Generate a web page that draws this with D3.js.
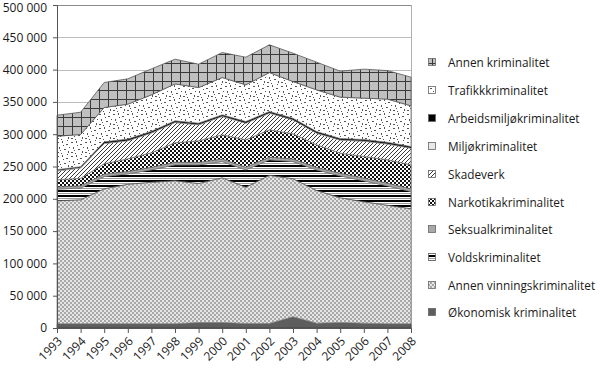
<!DOCTYPE html>
<html><head><meta charset="utf-8">
<script src="https://cdn.jsdelivr.net/npm/d3@7"></script>
<style>
html,body{margin:0;padding:0;background:#fff;}
text{font-family:"Open Sans","Noto Sans",sans-serif;fill:#1a1a1a;}
</style></head>
<body>
<svg id="chart" width="600" height="374"></svg>
<script>
// ---- data (number of reported offences) ----
const years = ["1993","1994","1995","1996","1997","1998","1999","2000","2001","2002","2003","2004","2005","2006","2007","2008"];
const okonomisk   = [6500,6500,6500,6500,6500,6500,8500,8500,7000,7000,17500,7500,8500,7500,6500,6500];
const vinning     = [190400,192000,209000,216000,219100,221400,215200,224000,210800,229400,213500,205400,193100,187900,183500,178100];
const vold        = [18200,18100,19000,16200,19300,24700,28900,25200,27100,24000,26700,32000,34000,32500,30100,26700];
const seksual     = [3200,3400,3600,3500,3800,3900,3700,3800,3900,4000,3800,3600,3900,4100,4000,3900];
const narkotika   = [11100,11700,16100,19700,22500,30200,33500,37500,42500,42400,39100,35100,31200,33500,36300,37400];
const skadeverk   = [13800,16100,31500,28000,30700,31500,24800,28500,25800,25800,21500,18000,20100,23800,24500,25800];
const miljo       = [1500,1500,1200,1200,1300,1300,1200,1300,1200,1300,1200,1200,1300,1200,1200,1200];
const arbeidsmiljo= [400,400,1300,1300,1200,1200,1300,1200,1300,1200,1300,1300,1200,1300,1300,1300];
const trafikk     = [51800,49800,53100,54100,56500,57200,55100,57700,56800,60300,56900,64500,64100,64000,66900,63000];
const annen       = [32500,34500,38700,39200,40200,38200,36200,38700,42800,42900,43900,42900,40200,44900,44200,44400];
const seriesNames = ["Økonomisk kriminalitet","Annen vinningskriminalitet","Voldskriminalitet","Seksualkriminalitet","Narkotikakriminalitet","Skadeverk","Miljøkriminalitet","Arbeidsmiljøkriminalitet","Trafikkkriminalitet","Annen kriminalitet"];
const yTicks = [0,50000,100000,150000,200000,250000,300000,350000,400000,450000,500000];

const seriesVals = [okonomisk,vinning,vold,seksual,narkotika,skadeverk,miljo,arbeidsmiljo,trafikk,annen];
const keys = seriesNames;
const table = years.map((y,i)=>{const o={year:y}; keys.forEach((k,j)=>o[k]=seriesVals[j][i]); return o;});

const svg = d3.select("#chart");
const defs = svg.append("defs");

// patterns
function pat(id,w,h){return defs.append("pattern").attr("id",id).attr("patternUnits","userSpaceOnUse").attr("width",w).attr("height",h);}
let p;
p = pat("p0",4,4); p.append("rect").attr("width",4).attr("height",4).attr("fill","#5e5e5e");
p = pat("p1",4,4); p.append("rect").attr("width",4).attr("height",4).attr("fill","#e6e6e6");
p.append("rect").attr("width",2).attr("height",2).attr("fill","#a8a8a8");
p.append("rect").attr("x",2).attr("y",2).attr("width",2).attr("height",2).attr("fill","#a8a8a8");
p = pat("p2",4,5); p.append("rect").attr("width",4).attr("height",5).attr("fill","#fff");
p.append("rect").attr("y",0).attr("width",4).attr("height",2).attr("fill","#000");
p.append("rect").attr("y",3).attr("width",4).attr("height",1).attr("fill","#9a9a9a");
p = pat("p3",4,4); p.append("rect").attr("width",4).attr("height",4).attr("fill","#a8a8a8");
p = pat("p4",4,4); p.append("rect").attr("width",4).attr("height",4).attr("fill","#fff");
p.append("rect").attr("width",2).attr("height",2).attr("fill","#111");
p.append("rect").attr("x",2).attr("y",2).attr("width",2).attr("height",2).attr("fill","#111");
p = pat("p5",4,4); p.append("rect").attr("width",4).attr("height",4).attr("fill","#fff");
p.append("path").attr("d","M-1,1 L1,-1 M0,4 L4,0 M3,5 L5,3").attr("stroke","#222").attr("stroke-width",0.9);
p = pat("p6",4,4); p.append("rect").attr("width",4).attr("height",4).attr("fill","#e8e8e8");
p = pat("p7",4,4); p.append("rect").attr("width",4).attr("height",4).attr("fill","#000");
p = pat("p8",14,14); p.append("rect").attr("width",14).attr("height",14).attr("fill","#fff");
[[1,2,2,1],[6,1,1,2],[10,4,2,1],[3,7,1,2],[8,9,2,1],[12,11,1,2],[1,12,2,1],[5,13,1,1],[11,0,1,1],[13,7,1,1],[7,5,1,1],[4,10,1,1]].forEach(d=>
  p.append("rect").attr("x",d[0]).attr("y",d[1]).attr("width",d[2]).attr("height",d[3]).attr("fill","#555"));
p = pat("p9",9,9); p.append("rect").attr("width",9).attr("height",9).attr("fill","#c0c0c0");
p.append("rect").attr("x",0).attr("width",1).attr("height",9).attr("fill","#3a3a3a");
p.append("rect").attr("y",0).attr("width",9).attr("height",1).attr("fill","#3a3a3a");

const fills = ["url(#p0)","url(#p1)","url(#p2)","url(#p3)","url(#p4)","url(#p5)","url(#p6)","url(#p7)","url(#p8)","url(#p9)"];
const strokes = ["#404040","#888","#555","#777","#666","#777","#888","#000","#777","#555"];

const x = d3.scalePoint().domain(years).range([57,411]);
const y = d3.scaleLinear().domain([0,500000]).range([328,5]);

// gridlines
svg.append("g").selectAll("line").data(yTicks.filter(t=>t>0)).join("line")
  .attr("x1",57).attr("x2",411).attr("y1",d=>Math.round(y(d))+0.5).attr("y2",d=>Math.round(y(d))+0.5)
  .attr("stroke",d=>d===500000?"#8a8a8a":"#bdbdbd").attr("stroke-width",1);
svg.append("line").attr("x1",411.5).attr("x2",411.5).attr("y1",5).attr("y2",328).attr("stroke","#b0b0b0");

const stack = d3.stack().keys(keys);
const layers = stack(table);
const area = d3.area().x(d=>x(d.data.year)).y0(d=>y(d[0])).y1(d=>y(d[1]));
svg.append("g").selectAll("path").data(layers).join("path")
  .attr("d",area).attr("fill",(d,i)=>fills[i]).attr("stroke",(d,i)=>strokes[i]).attr("stroke-width",0.8);

// axes
const yAxis = d3.axisLeft(y).tickValues(yTicks).tickSize(4).tickPadding(6)
  .tickFormat(d=>d3.format(",")(d).replace(/,/g," "));
const gy = svg.append("g").attr("transform","translate(57,0)").call(yAxis);
gy.select(".domain").attr("stroke","#555");
gy.selectAll(".tick line").attr("stroke","#555");
gy.selectAll("text").attr("font-size",12).attr("fill","#1a1a1a");
gy.selectAll(".tick").filter(d=>d===500000).select("text").attr("dy","0.5em");

const xAxis = d3.axisBottom(x).tickSize(5).tickFormat("");
const gx = svg.append("g").attr("transform","translate(0,328)").call(xAxis);
gx.select(".domain").attr("stroke","#555");
gx.selectAll(".tick line").attr("stroke","#555");
svg.append("g").selectAll("text").data(years).join("text")
  .attr("transform",d=>`translate(${x(d)+3},${339}) rotate(-45)`)
  .attr("text-anchor","end").attr("font-size",12).attr("dy","0.35em").text(d=>d);

// legend (reverse order)
const legY = [63,91,119,147,175,203,230,258,286,313];
const lg = svg.append("g");
const rev = keys.map((k,i)=>i).reverse();
rev.forEach((si,r)=>{
  lg.append("rect").attr("x",428.5).attr("y",legY[r]-4.5).attr("width",7).attr("height",7)
    .attr("fill",fills[si]).attr("stroke","#666").attr("stroke-width",0.8);
  lg.append("text").attr("x",448).attr("y",legY[r]).attr("dy","0.35em").attr("font-size",11.8).text(keys[si]);
});
</script>
</body></html>
